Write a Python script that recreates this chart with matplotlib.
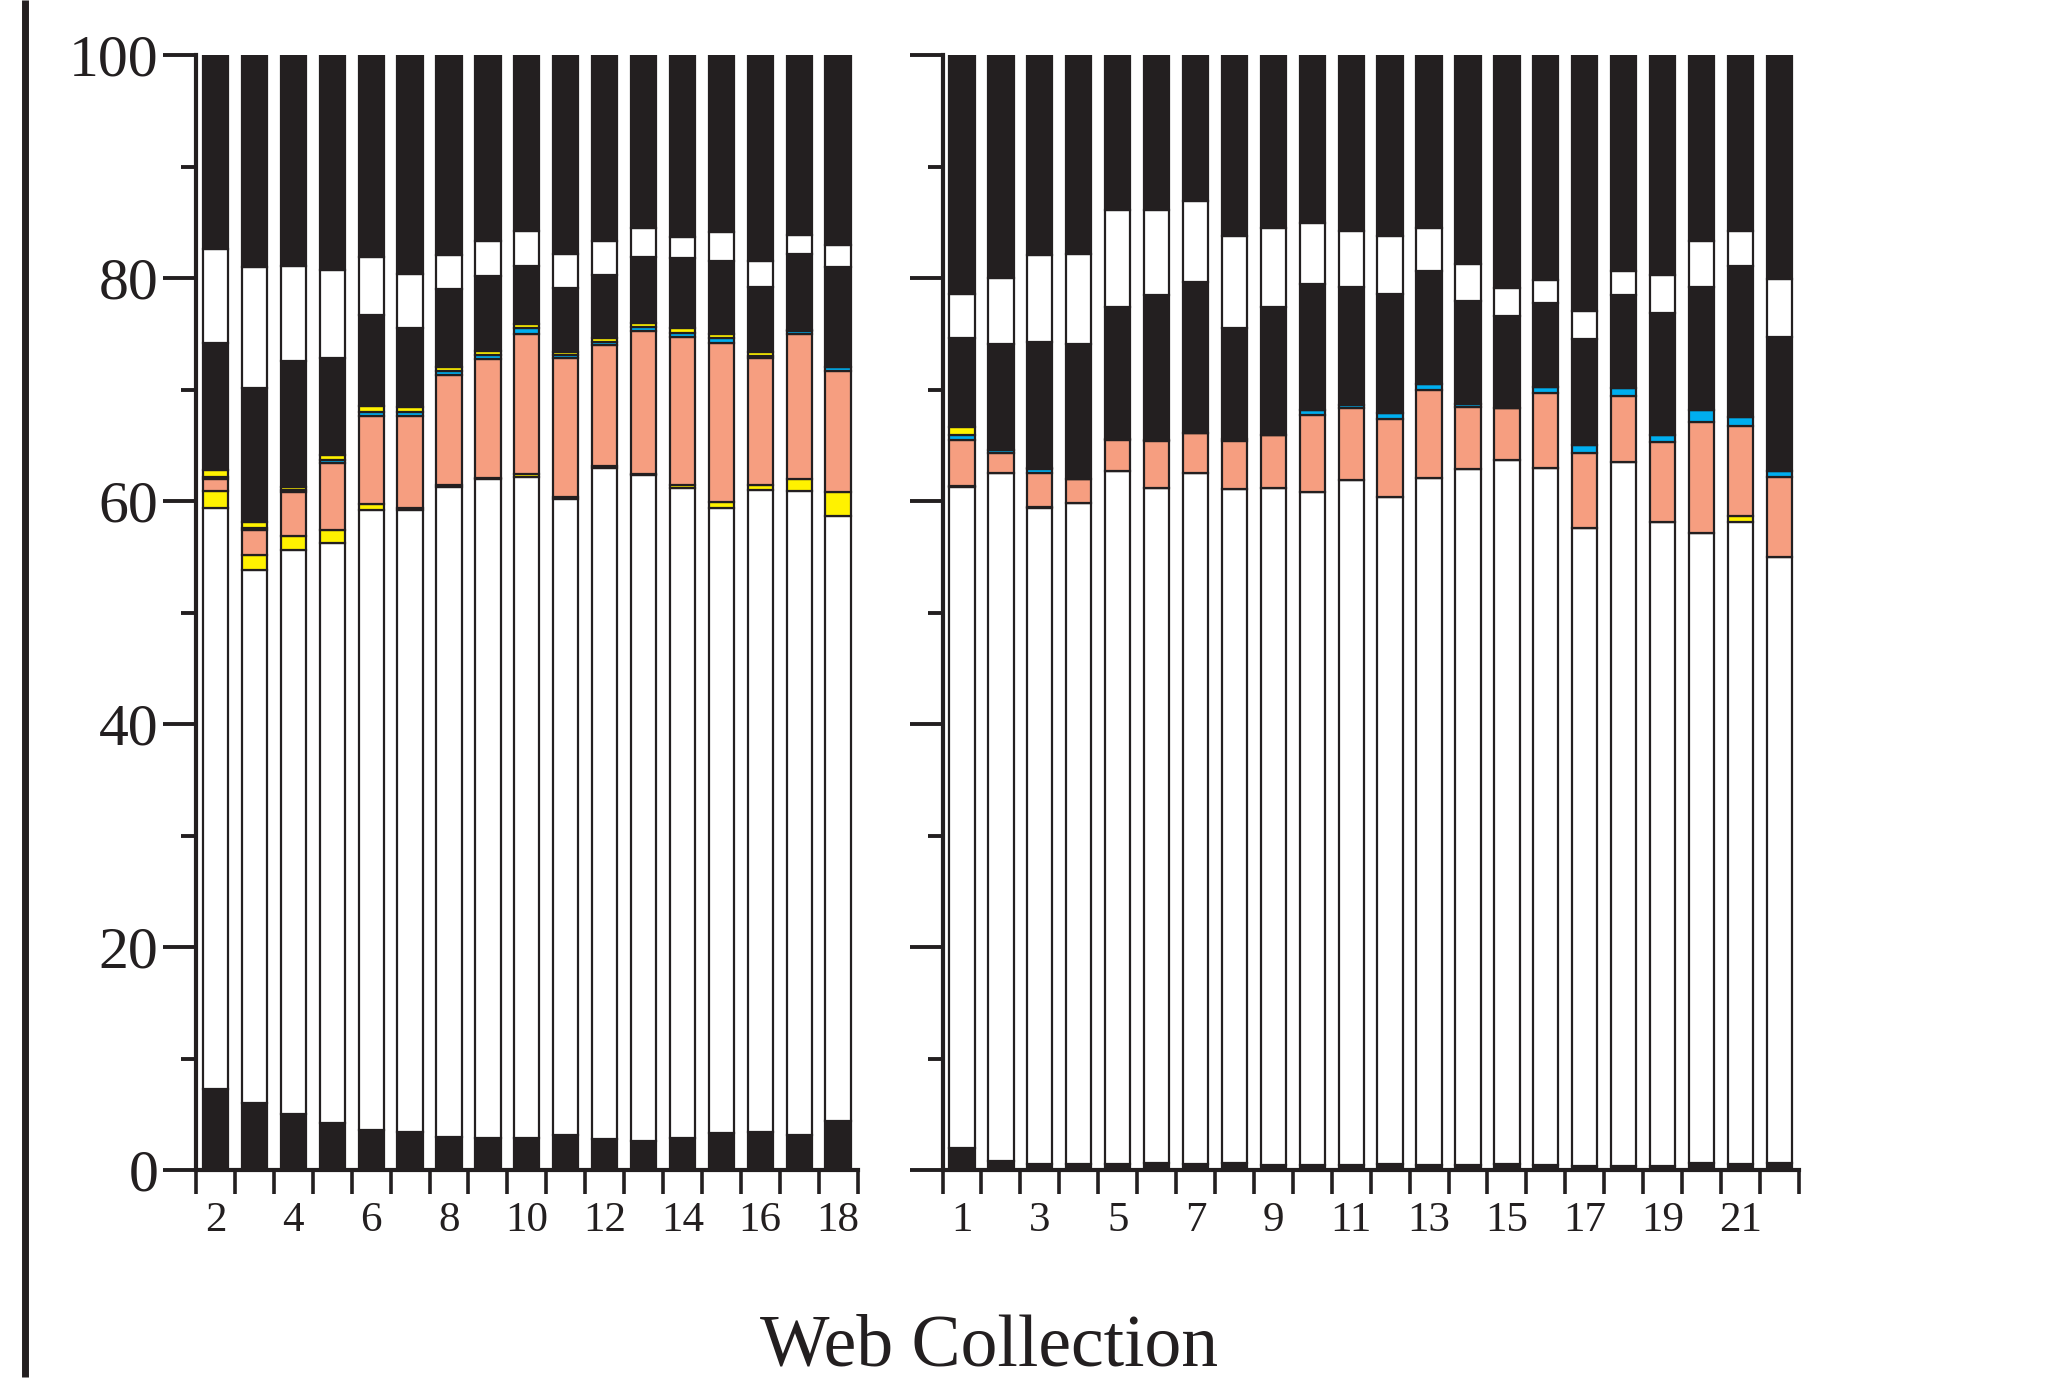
"""
Composition of web collections: stacked percentage bars in two blocks.
"""

import numpy as np
import matplotlib
matplotlib.use("Agg")
import matplotlib.pyplot as plt
from matplotlib.lines import Line2D
from matplotlib.ticker import FixedLocator, NullFormatter, FixedFormatter

# ── Colour palette ────────────────────────────────────────────────────────────
INK    = "#231f20"
SALMON = "#f69e80"
YELLOW = "#fff200"
CYAN   = "#00aeef"
PAPER  = "#ffffff"

# ── Left block: collections 2–18 (layer heights, bottom to top) ───────────────
left_ids          = list(range(2, 19))
left_black_base   = [7.3, 6.0, 5.0, 4.2, 3.6, 3.4, 3.0, 2.9, 2.9, 3.1, 2.8, 2.6, 2.9, 3.3, 3.4, 3.1, 4.4]
left_white_main   = [52.1, 47.8, 50.6, 52.0, 55.6, 55.8, 58.3, 59.1, 59.3, 57.1, 60.2, 59.7, 58.3, 56.1, 57.6, 57.8, 54.3]
left_yellow_low   = [1.5, 1.4, 1.3, 1.2, 0.5, 0.2, 0.1, 0.1, 0.2, 0.15, 0.1, 0.1, 0.2, 0.5, 0.4, 1.1, 2.1]
left_salmon       = [1.1, 2.2, 3.9, 6.0, 7.9, 8.2, 9.9, 10.6, 12.6, 12.45, 10.9, 12.85, 13.3, 14.3, 11.4, 13.0, 10.9]
left_blue         = [0.2, 0.2, 0.15, 0.3, 0.4, 0.4, 0.4, 0.4, 0.5, 0.3, 0.3, 0.35, 0.4, 0.4, 0.2, 0.25, 0.35]
left_yellow_high  = [0.6, 0.5, 0.35, 0.4, 0.5, 0.4, 0.3, 0.4, 0.4, 0.3, 0.3, 0.4, 0.4, 0.35, 0.4, 0.05, 0.0]
left_black_mid    = [11.4, 12.0, 11.3, 8.7, 8.2, 7.1, 7.0, 6.7, 5.2, 5.7, 5.7, 5.85, 6.3, 6.55, 5.8, 6.9, 8.95]
left_white_upper  = [8.4, 10.9, 8.5, 7.9, 5.2, 4.9, 3.1, 3.1, 3.1, 3.1, 3.0, 2.65, 1.85, 2.6, 2.35, 1.7, 2.0]
left_black_top    = [17.4, 19.0, 18.9, 19.3, 18.1, 19.6, 17.9, 16.7, 15.8, 17.8, 16.7, 15.5, 16.35, 15.9, 18.45, 16.1, 17.0]
left_tick_labels  = [2, 4, 6, 8, 10, 12, 14, 16, 18]

# ── Right block: collections 1–22 ─────────────────────────────────────────────
right_ids         = list(range(1, 23))
right_black_base  = [2.0, 0.8, 0.5, 0.5, 0.5, 0.6, 0.5, 0.6, 0.45, 0.45, 0.45,
                     0.5, 0.45, 0.45, 0.5, 0.45, 0.4, 0.4, 0.35, 0.6, 0.5, 0.6]
right_white_main  = [59.3, 61.7, 58.9, 59.3, 62.2, 60.6, 62.0, 60.5, 60.75, 60.35, 61.45,
                     59.9, 61.65, 62.4, 63.2, 62.55, 57.2, 63.1, 57.75, 56.5, 57.6, 54.4]
right_yellow_low  = [0.05, 0.0, 0.1, 0.0, 0.0, 0.0, 0.0, 0.0, 0.0, 0.0, 0.0,
                     0.0, 0.0, 0.0, 0.0, 0.0, 0.0, 0.0, 0.0, 0.0, 0.6, 0.0]
right_salmon      = [4.15, 1.8, 3.0, 2.2, 2.8, 4.2, 3.6, 4.3, 4.7, 6.9, 6.4,
                     7.0, 7.9, 5.55, 4.6, 6.7, 6.7, 5.9, 7.2, 9.95, 8.05, 7.2]
right_blue        = [0.45, 0.3, 0.35, 0.0, 0.1, 0.05, 0.0, 0.2, 0.0, 0.5, 0.3,
                     0.5, 0.5, 0.3, 0.0, 0.5, 0.7, 0.7, 0.6, 1.15, 0.75, 0.5]
right_yellow_high = [0.65, 0.0, 0.15, 0.0, 0.0, 0.0, 0.0, 0.0, 0.0, 0.0, 0.0,
                     0.0, 0.0, 0.0, 0.0, 0.0, 0.0, 0.0, 0.0, 0.0, 0.0, 0.0]
right_black_mid   = [8.0, 9.5, 11.3, 12.1, 11.8, 13.05, 13.5, 9.9, 11.5, 11.3, 10.6,
                     10.7, 10.15, 9.2, 8.3, 7.6, 9.5, 8.4, 11.0, 11.0, 13.6, 12.0]
right_white_upper = [4.0, 5.9, 7.8, 8.1, 8.7, 7.6, 7.3, 8.3, 7.1, 5.4, 5.0,
                     5.2, 3.85, 3.35, 2.5, 2.0, 2.5, 2.1, 3.4, 4.1, 3.15, 5.2]
right_black_top   = [21.4, 20.0, 17.9, 17.8, 13.9, 13.9, 13.1, 16.2, 15.5, 15.1, 15.8,
                     16.2, 15.5, 18.75, 20.9, 20.2, 23.0, 19.4, 19.7, 16.7, 15.75, 20.1]
right_tick_labels = [1, 3, 5, 7, 9, 11, 13, 15, 17, 19, 21]

LAYER_COLORS = [INK, PAPER, YELLOW, SALMON, CYAN, YELLOW, INK, PAPER, INK]

plt.rcParams.update({
    "font.family": ["Liberation Serif", "DejaVu Serif"],
    "axes.edgecolor": INK,
    "xtick.color": INK,
    "ytick.color": INK,
    "text.color": INK,
})


def draw_block(ax, ids, layers, labelled, show_ylabels):
    """Stack the layers for one block of collections."""
    ids = np.asarray(ids)
    bottom = np.zeros(len(ids))
    for heights, color in zip(layers, LAYER_COLORS):
        heights = np.asarray(heights, dtype=float)
        ax.bar(ids, heights, width=0.65, bottom=bottom, color=color,
               edgecolor=INK, linewidth=1.6, zorder=2)
        bottom += heights

    ax.set_xlim(ids[0] - 0.5, ids[-1] + 0.5)
    ax.set_ylim(0, 100)

    for side in ("top", "right"):
        ax.spines[side].set_visible(False)
    for side in ("left", "bottom"):
        ax.spines[side].set_linewidth(3)
        ax.spines[side].set_zorder(3)

    # bar-boundary ticks on x, labels centred under every other bar
    ax.xaxis.set_major_locator(FixedLocator(np.arange(ids[0] - 0.5, ids[-1] + 1, 1.0)))
    ax.xaxis.set_major_formatter(NullFormatter())
    ax.xaxis.set_minor_locator(FixedLocator(labelled))
    ax.xaxis.set_minor_formatter(FixedFormatter([str(v) for v in labelled]))
    ax.tick_params(axis="x", which="major", length=17, width=2.6, direction="out")
    ax.tick_params(axis="x", which="minor", length=0, pad=23, labelsize=31)

    ax.set_yticks(np.arange(0, 101, 20))
    ax.set_yticks(np.arange(10, 100, 20), minor=True)
    ax.tick_params(axis="y", which="major", length=24, width=2.8, direction="out",
                   labelsize=43, pad=3, labelleft=show_ylabels)
    ax.tick_params(axis="y", which="minor", length=11, width=2.8, direction="out")


fig = plt.figure(figsize=(20.49, 13.83), dpi=100)
fig.patch.set_facecolor("white")

ax_left = fig.add_axes([0.0957, 0.154, 0.3228, 0.8062])
ax_right = fig.add_axes([0.4600, 0.154, 0.4179, 0.8062])

draw_block(ax_left, left_ids,
           [left_black_base, left_white_main, left_yellow_low, left_salmon, left_blue,
            left_yellow_high, left_black_mid, left_white_upper, left_black_top],
           left_tick_labels, True)
draw_block(ax_right, right_ids,
           [right_black_base, right_white_main, right_yellow_low, right_salmon, right_blue,
            right_yellow_high, right_black_mid, right_white_upper, right_black_top],
           right_tick_labels, False)

fig.text(0.4825, 0.001, "Web Collection", fontsize=53, ha="center", va="bottom")

# heavy rule down the left margin
fig.add_artist(Line2D([0.0122, 0.0122], [0.004, 1.0], transform=fig.transFigure,
                      color=INK, linewidth=5, solid_capstyle="butt"))

fig.savefig("out.png", dpi=100, facecolor="white")
